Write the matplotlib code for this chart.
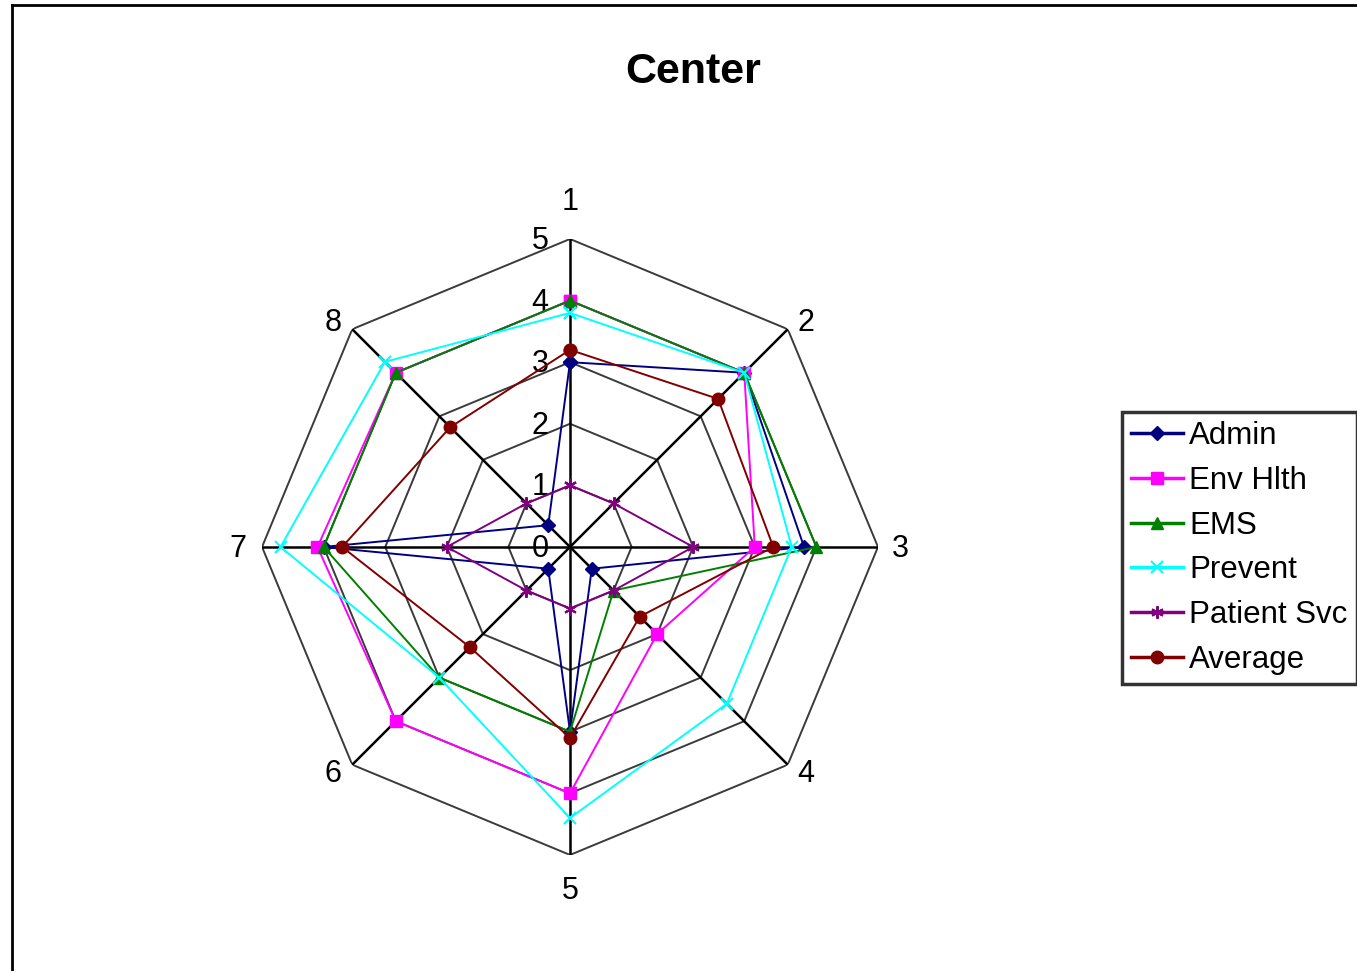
import numpy as np
import matplotlib
matplotlib.use("Agg")
import matplotlib.pyplot as plt
from matplotlib.lines import Line2D

plt.rcParams['font.family'] = ['Liberation Sans', 'DejaVu Sans']

# Scores per question (1..8) for each division
spokes = ['1', '2', '3', '4', '5', '6', '7', '8']
levels = [0, 1, 2, 3, 4, 5]

admin = [3, 4, 3.8, 0.5, 3, 0.5, 4, 0.5]
env_hlth = [4, 4, 3, 2, 4, 4, 4.1, 4]
ems = [4, 4, 4, 1, 3, 3, 4, 4]
prevent = [3.8, 4, 3.6, 3.6, 4.4, 3, 4.7, 4.25]
patient_svc = [1, 1, 2, 1, 1, 1, 2, 1]
average = [3.2, 3.4, 3.3, 1.6, 3.1, 2.3, 3.7, 2.75]

series = [
    ('Admin', admin, '#000080', 'D', 7),
    ('Env Hlth', env_hlth, '#FF00FF', 's', 9),
    ('EMS', ems, '#008000', '^', 8),
    ('Prevent', prevent, '#00FFFF', 'x', 8),
    ('Patient Svc', patient_svc, '#800080', (6, 2, 0), 9),
    ('Average', average, '#800000', 'o', 9),
]

# pixel offsets of the spoke labels from the outer ring
label_offsets = [(0, 37), (18, 6), (22, -2), (18, -9),
                 (0, -36), (-19, -9), (-24, -2), (-19, 6)]

fig = plt.figure(figsize=(13.57, 9.71), dpi=100)
ax = fig.add_axes([0.1931, 0.1195, 0.4539, 0.6344], projection='polar')
ax.set_theta_zero_location('N')
ax.set_theta_direction(-1)
ax.set_ylim(0, 5)
ax.grid(False)
ax.spines['polar'].set_visible(False)
ax.set_xticks([])
ax.set_yticks([])
ax.patch.set_visible(False)

theta = np.linspace(0, 2 * np.pi, len(spokes), endpoint=False)
closed = np.append(theta, theta[0])

# octagonal grid
for lv in levels[1:]:
    ax.plot(closed, [lv] * len(closed), color='#3a3a3a', lw=1.4, zorder=1)
for t in theta:
    ax.plot([t, t], [0, 5], color='black', lw=1.8, zorder=1)

# value scale along the first spoke
for lv in levels:
    ax.annotate(str(lv), xy=(0, lv), xytext=(-30, -2), textcoords='offset pixels',
                ha='center', va='center', fontsize=22, zorder=2)

# spoke labels
for t, lab, off in zip(theta, spokes, label_offsets):
    ax.annotate(lab, xy=(t, 5), xytext=off, textcoords='offset pixels',
                ha='center', va='center', fontsize=22)

for name, vals, col, mk, ms in series:
    v = np.append(vals, vals[0])
    ax.plot(closed, v, color=col, lw=1.4, marker=mk, markersize=ms,
            markeredgewidth=1.5 if mk in ('x', (6, 2, 0)) else 1,
            markerfacecolor=col, markeredgecolor=col, label=name,
            clip_on=False, zorder=3)

fig.text(693 / 1357, 1 - 72 / 971, 'Center', ha='center', va='center',
         fontsize=31, fontweight='bold')

leg = fig.legend(loc='upper left', bbox_to_anchor=(1122 / 1357, 1 - 412 / 971),
                 fontsize=22.5, frameon=True, fancybox=False, handlelength=1.65,
                 handletextpad=0.2, labelspacing=0.47, borderpad=0.3,
                 borderaxespad=0)
leg.get_frame().set_edgecolor('black')
leg.get_frame().set_linewidth(2.5)
for h in leg.get_lines():
    h.set_linewidth(2.5)

# chart area border
fig.add_artist(Line2D([12 / 1357, 12 / 1357], [0, 1 - 5 / 971], color='black', lw=2))
fig.add_artist(Line2D([12 / 1357, 1], [1 - 5 / 971, 1 - 5 / 971], color='black', lw=2))

fig.savefig('out.png', dpi=100)
